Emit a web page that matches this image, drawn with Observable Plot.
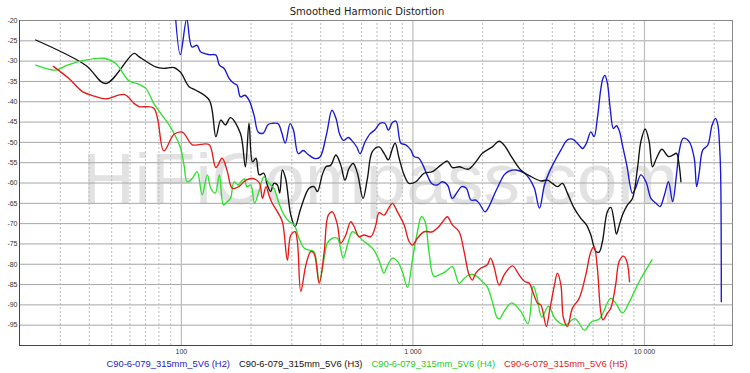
<!DOCTYPE html>
<html><head><meta charset="utf-8">
<script src="https://cdn.jsdelivr.net/npm/d3@7"></script>
<script src="https://cdn.jsdelivr.net/npm/@observablehq/plot@0.6"></script>
<style>
body{margin:0;background:#fff;width:750px;height:373px;overflow:hidden;}
#title{height:14px;line-height:23px;text-align:center;font-family:"DejaVu Sans",sans-serif;font-size:10px;color:#222;padding-right:16px;overflow:visible;position:relative;z-index:1;}
#legend{height:16px;display:flex;justify-content:center;gap:9px;font-family:"Liberation Sans",Arial,sans-serif;font-size:9.4px;line-height:14px;padding-right:16px;}
svg{display:block;}
</style></head><body>
<div id="title"></div>
<div id="chart"></div>
<div id="legend"></div>
<script>
const chartTitle = "Smoothed Harmonic Distortion";
const seriesNames = ["C90-6-079_315mm_5V6 (H2)","C90-6-079_315mm_5V6 (H3)","C90-6-079_315mm_5V6 (H4)","C90-6-079_315mm_5V6 (H5)"];
const seriesColors = ["#1818d4","#111111","#2ee02e","#e81818"];
const legendColors = ["#2222c8","#111111","#22cc22","#dd2020"];

const h2Freq = [93,99,105.5,111,117,121,132,141,146,153,161,169,174,180,188,196,206,215,226,237,249,262,271,281,295,305,320,336,353,378,397,424,447,466,482,501,526,544,573,591,621,653,686,721,757,783,816,846,887,932,980,1011,1062,1105,1152,1205,1274,1338,1410,1480,1556,1625,1701,1781,1869,1934,2048,2130,2240,2357,2478,2603,2786,3030,3184,3347,3520,3700,3888,4087,4355,4648,4887,5224,5400,5617,5867,6060,6260,6471,6615,6750,6920,7112,7347,7568,7775,8035,8390,8870,9150,9650,10150,10670,11220,11680,12190,12700,13230,13750,14120,14700,15600,16400,16800,17260,17850,18760,19600,20270,20750,21100,21320,21470];
const h2Db = [-14,-28.4,-19.6,-26.5,-26.1,-27.7,-28.4,-28.5,-31.0,-31.8,-34.3,-35.5,-35.9,-38.8,-38.4,-39.6,-43.3,-47.5,-47.7,-45.6,-45.3,-45.4,-47.5,-50.2,-45.4,-47.0,-52.8,-52.0,-53.0,-54.0,-53.6,-47.9,-42.1,-44.2,-47.9,-49.5,-48.8,-49.5,-51.2,-52.8,-49.9,-47.9,-46.9,-45.3,-45.3,-47.0,-45.1,-44.8,-50.2,-50.6,-51.9,-53.5,-53.9,-55.6,-58.0,-60.1,-60.5,-59.7,-60.5,-63.8,-62.2,-60.9,-61.3,-64.2,-64.2,-65.0,-67.1,-65.8,-63.0,-60.3,-58.0,-57.1,-56.8,-57.6,-58.9,-61.3,-66.2,-60.5,-57.2,-54.7,-51.9,-49.4,-49.2,-50.7,-51.5,-50.2,-47.4,-48.6,-44.1,-37.1,-34.3,-33.5,-35.5,-41.6,-46.6,-45.9,-47.0,-50.7,-55.6,-62.5,-61.3,-58.0,-59.7,-63.8,-65.0,-65.8,-63.0,-59.7,-64.6,-58.0,-52.3,-49.0,-49.8,-53.9,-60.9,-57.2,-51.9,-50.7,-45.7,-44.1,-45.7,-50.7,-57.2,-89.2];

const h3Freq = [23.5,38.6,47.1,62.5,65.6,78,84,93,99,101,108,115,132,141,148,155,163,180,189,196,203,210,217,227,235,243,251,260,266,273,282,297,310,328,356,374,387,406,421,442,465,488,509,530,552,576,609,636,668,714,751,783,816,838,872,916,963,1029,1118,1214,1320,1409,1481,1583,1736,1869,1996,2204,2357,2478,2690,2924,3231,3568,3811,4005,4209,4424,4648,4969,5313,5617,5867,6166,6372,6584,6921,7159,7397,7568,7775,8035,8446,8875,9328,9650,10070,10478,10830,11270,11890,12700,13300,13750,14120,14370];
const h3Db = [-24.8,-31.0,-35.5,-28.1,-28.9,-31.5,-31.8,-31.6,-32.7,-33.4,-36.3,-37.1,-39.6,-48.6,-44.5,-45.7,-43.9,-47.8,-56.0,-45.3,-54.8,-53.9,-58.0,-57.6,-60.5,-62.1,-60.1,-60.5,-62.5,-56.8,-58.9,-67.9,-70.7,-66.2,-61.3,-60.9,-62.1,-58.0,-56.0,-55.6,-53.1,-55.6,-59.3,-56.4,-55.2,-57.6,-63.8,-58.9,-52.3,-51.1,-52.7,-54.3,-51.5,-50.2,-53.9,-58.0,-60.1,-59.7,-57.6,-57.2,-55.6,-54.6,-56.2,-56.0,-56.6,-54.8,-52.7,-51.1,-49.7,-50.7,-53.9,-56.8,-58.4,-59.5,-59.3,-60.1,-60.9,-60.1,-62.5,-66.2,-68.7,-70.3,-72.8,-76.8,-77.0,-74.4,-67.0,-66.0,-69.5,-72.6,-70.5,-67.9,-65.4,-63.8,-56.4,-49.8,-46.7,-49.8,-56.0,-53.9,-51.7,-53.5,-53.1,-52.7,-55.6,-59.7];

const h4Freq = [23.5,28.7,32.2,38.0,46.4,52.1,59.5,65.6,70.2,76,81.5,88.5,94.6,99.4,102.7,106,111.5,117,123,129.5,134,140,146,152,158,163,169,176,181,187,192,199.5,207,217,227,239,251,264,278,292,307,322,339,356,374,394,414,427,449,472,500,521,548,576,615,647,679,714,750,773,816,858,900,947,995,1046,1088,1128,1173,1232,1297,1385,1480,1583,1664,1748,1869,1996,2092,2204,2320,2381,2478,2670,2924,3140,3311,3431,3605,3850,4115,4530,5010,5510,5895,6400,7140,7500,8035,8620,9480,10780];
const h4Db = [-31.0,-32.2,-31.0,-29.8,-29.3,-30.6,-34.9,-35.7,-36.7,-40.4,-42.9,-45.7,-48.6,-51.5,-55.6,-59.7,-58.9,-57.2,-62.9,-58.0,-61.3,-62.5,-58.0,-65.4,-64.6,-63.8,-59.7,-60.5,-59.7,-59.0,-60.9,-60.5,-65.0,-61.8,-58.5,-60.1,-61.3,-65.0,-67.9,-69.5,-70.3,-73.6,-76.0,-76.5,-76.9,-84.3,-78.5,-74.8,-73.6,-73.6,-78.5,-75.3,-72.0,-72.8,-74.4,-75.3,-76.5,-79.0,-82.2,-80.6,-78.5,-79.3,-81.8,-85.7,-78.9,-72.0,-68.3,-69.5,-76.9,-83.0,-82.6,-81.8,-80.6,-84.7,-83.5,-82.6,-82.8,-84.3,-85.5,-89.2,-93.3,-93.3,-91.6,-89.5,-91.6,-94.6,-85.4,-88.0,-93.0,-90.3,-93.4,-95.0,-93.4,-96.2,-94.2,-93.4,-88.4,-89.5,-92.0,-89.2,-84.3,-78.9];

const h5Freq = [28,32.7,37.4,42,47.1,56.6,62.5,65.6,76,84,93,101,111.5,121,132,141,150,158,166,177,190,203,217,224,232,239,247,260,273,287,297,310,317,328,345,362,374,394,414,431,449,472,488,513,539,557,585,615,658,692,714,750,793,816,858,916,963,995,1046,1118,1214,1297,1363,1409,1480,1583,1664,1748,1807,1869,1960,2092,2164,2240,2357,2478,2690,2875,3030,3184,3290,3455,3568,3769,3888,4087,4209,4355,4472,4648,4887,5224,5580,5867,6060,6260,6471,6615,6920,7159,7508,7775,8120,8390,8620];
const h5Db = [-31.3,-34.3,-37.5,-38.6,-39.3,-38.2,-40.4,-41.2,-41.6,-52.1,-48.0,-47.5,-50.6,-50.5,-50.6,-56.2,-53.9,-57.2,-61.3,-60.9,-59.3,-58.9,-59.9,-63.8,-60.9,-63.0,-65.0,-67.1,-69.5,-79.0,-72.8,-72.0,-74.4,-86.7,-80.2,-76.9,-77.3,-84.7,-76.9,-67.9,-67.1,-70.3,-74.8,-72.8,-69.5,-70.7,-73.2,-72.8,-73.2,-70.3,-67.3,-67.9,-65.8,-65.0,-67.1,-70.3,-74.4,-75.3,-73.6,-72.0,-72.0,-70.7,-69.1,-68.3,-70.3,-72.0,-76.9,-82.6,-83.9,-82.2,-81.0,-80.2,-78.5,-80.6,-85.1,-82.6,-80.4,-82.6,-84.2,-84.7,-86.7,-89.6,-90.0,-95.3,-91.6,-85.1,-82.2,-85.1,-93.3,-95.3,-90.8,-88.4,-82.6,-76.9,-75.7,-81.0,-91.6,-93.7,-92.0,-90.8,-85.1,-79.3,-78.0,-79.3,-84.3];

const yTicks = [-95,-90,-85,-80,-75,-70,-65,-60,-55,-50,-45,-40,-35,-30,-25,-20];
const xTickValues = [100,1000,10000];
const xTickLabels = ["100","1 000","10 000"];
const minorGrid = [30,40,50,60,70,80,90,200,300,400,500,600,700,800,900,2000,3000,4000,5000,6000,7000,8000,9000,20000];
const watermark = "HiFiCompass.com";

const freqs = [h2Freq,h3Freq,h4Freq,h5Freq];
const dbs = [h2Db,h3Db,h4Db,h5Db];
const rows = [];
freqs.forEach((fa,s)=>fa.forEach((f,i)=>rows.push({s:seriesNames[s], k:s, f, db:dbs[s][i]})));

document.getElementById("title").textContent = chartTitle;

const chart = Plot.plot({
  width: 750, height: 343,
  marginTop: 6, marginBottom: 12, marginLeft: 19, marginRight: 18,
  style: {background: "transparent", fontFamily: "'Liberation Sans', Arial, sans-serif"},
  x: {type: "log", domain: [20, 24000], axis: null},
  y: {domain: [-100, -20], axis: null},
  marks: [
    Plot.text([watermark], {frameAnchor: "middle", text: d => d, fontSize: 73, fill: "#e2e2e2", dx: 4, dy: -2, fontFamily: "'Liberation Sans', Arial, sans-serif"}),
    Plot.ruleY(yTicks.filter(d => d > -100 && d < -20), {stroke: "#a6a6a6", strokeWidth: 1}),
    Plot.ruleX(minorGrid, {y1: -100, y2: -20, stroke: "#b4b4b4", strokeDasharray: "2,2", strokeWidth: 0.9}),
    Plot.ruleX(xTickValues, {y1: -100, y2: -20, stroke: "#bdbdbd", strokeWidth: 1.2}),
    Plot.frame({stroke: "#888"}),
    Plot.ruleX([20], {y1: -100, y2: -20, stroke: "#444"}),
    Plot.ruleY([-100], {stroke: "#444"}),
    ...[0,1,2,3].map(k => Plot.line(rows.filter(r => r.k === k), {x: "f", y: "db", stroke: seriesColors[k], strokeWidth: 1.35, curve: "catmull-rom", clip: true})),
    Plot.axisY(yTicks, {tickSize: 0, tickPadding: 2, fontSize: 7, label: null, tickFormat: d => String(d), fill: "#333"}),
    Plot.axisX(xTickValues, {tickSize: 0, tickPadding: 4, fontSize: 7, label: null, tickFormat: d => xTickLabels[xTickValues.indexOf(d)], fill: "#333"})
  ]
});
document.getElementById("chart").appendChild(chart);

const lg = document.getElementById("legend");
seriesNames.forEach((n,i) => {
  const sp = document.createElement("span");
  sp.textContent = n; sp.style.color = legendColors[i];
  lg.appendChild(sp);
});
</script>
</body></html>
